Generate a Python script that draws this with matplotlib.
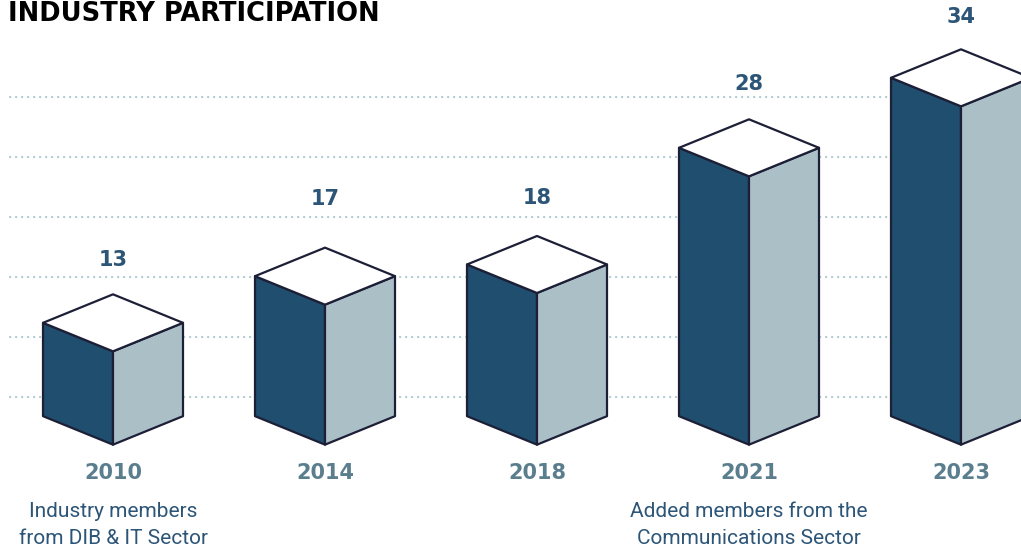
import numpy as np
import matplotlib.pyplot as plt
from matplotlib.patches import Polygon

# data
years = ["2010", "2014", "2018", "2021", "2023"]
members = [13, 17, 18, 28, 34]
notes = ["Industry members\nfrom DIB & IT Sector", "", "",
         "Added members from the\nCommunications Sector", ""]
label_gap = [34, 49, 38, 35, 32]   # px between box peak and its number

W, H = 1021, 554
PX = 11.667   # pixels per member
Y0 = 503      # pixel row where value 0 would sit
BASE = 5      # boxes start at this value


def v(py):
    # pixel row -> value units
    return (Y0 - py) / PX


dark = "#1f4e6e"
light = "#abbfc6"
edge = "#1c1f36"
num_col = "#2c5577"
year_col = "#5b7e8e"
grid_col = "#b3c9d1"

fig = plt.figure(figsize=(W / 100, H / 100), dpi=100)
ax = fig.add_axes([0, 0, 1, 1])
ax.set_xlim(0, W)
ax.set_ylim(v(H), v(0))
ax.axis("off")

# dotted guide lines
for py in range(97, 398, 60):
    ax.plot([10, W], [v(py), v(py)], ls=(0, (0.1, 2.6)), color=grid_col, lw=1.6,
            dash_capstyle="round", zorder=1)

narrow = ["Liberation Sans Narrow", "Roboto", "DejaVu Sans"]

hw = 70
d = 28.5 / PX
for i, (yr, m) in enumerate(zip(years, members)):
    cx = 113 + 212 * i
    left = [(cx - hw, m + d), (cx, m), (cx, BASE), (cx - hw, BASE + d)]
    right = [(cx, m), (cx + hw, m + d), (cx + hw, BASE + d), (cx, BASE)]
    top = [(cx - hw, m + d), (cx, m + 2 * d), (cx + hw, m + d), (cx, m)]
    for pts, fc in [(left, dark), (right, light), (top, "white")]:
        ax.add_patch(Polygon(pts, closed=True, facecolor=fc, edgecolor=edge,
                             lw=1.6, joinstyle="round", zorder=3))
    ax.text(cx, m + 2 * d + label_gap[i] / PX, str(m), ha="center", va="center",
            fontsize=15, fontweight="bold", color=num_col)
    ax.text(cx, v(473), yr, ha="center", va="center",
            fontsize=15, fontweight="bold", color=year_col)
    if notes[i]:
        ax.text(cx, v(525), notes[i], ha="center", va="center", family=narrow,
                fontsize=15, color=num_col, linespacing=1.5)

ax.text(8, v(14), "INDUSTRY PARTICIPATION", ha="left", va="center",
        fontsize=18.5, fontweight="heavy", color="black")

fig.savefig("out.png", dpi=100)
